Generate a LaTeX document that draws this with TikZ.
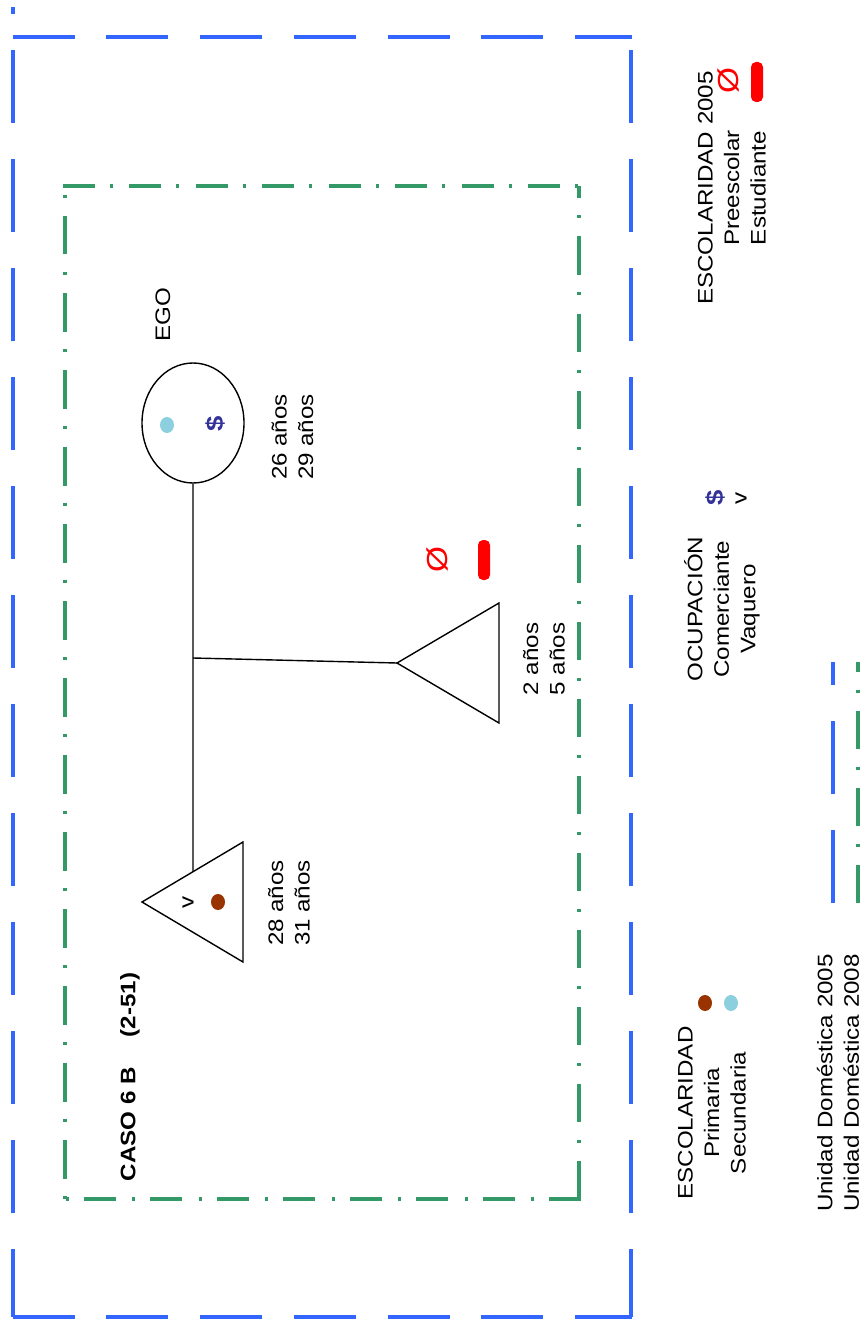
\documentclass[tikz,border=0pt]{standalone}
\usepackage{fontspec}
\setmainfont{Liberation Sans}[FakeStretch=1.15]
\usepackage{tikz}
\usetikzlibrary{calc,shapes.geometric}
\definecolor{udblue}{HTML}{3366FF}
\definecolor{udgreen}{HTML}{339966}
\definecolor{prim}{HTML}{993300}
\definecolor{secu}{HTML}{8CCFDF}
\definecolor{comer}{HTML}{333399}
\definecolor{preesc}{HTML}{FF0000}
\tikzset{
  line/.style={draw=black, line width=1.4pt},
  blueh/.style={draw=udblue, line width=4pt, dash pattern=on 62pt off 31.75pt},
  bluev/.style={draw=udblue, line width=4pt, dash pattern=on 73pt off 36pt},
  greenh/.style={draw=udgreen, line width=4pt, dash pattern=on 32pt off 15pt on 3pt off 16.5pt},
  greenv/.style={draw=udgreen, line width=4pt, dash pattern=on 38.5pt off 18pt on 3pt off 17.5pt},
  lbl/.style={rotate=90, inner sep=0pt, align=center, font=\fontsize{21}{26.5}\selectfont},
  fem/.style={ellipse, draw=black, line width=1.4pt, minimum width=102pt, minimum height=120pt, inner sep=0pt},
  dot/.style={ellipse, inner sep=0pt, minimum width=14pt, minimum height=16pt},
  stud/.style={fill=preesc, rounded corners=5pt, minimum width=12pt, minimum height=40pt, inner sep=0pt},
  nulo/.style={rotate=90, inner sep=0pt, text=preesc, font=\fontsize{29}{29}\selectfont},
  comsym/.style={rotate=90, inner sep=0pt, text=comer, font=\bfseries\fontsize{24}{24}\selectfont}
}
\begin{document}
\begin{tikzpicture}[x=1pt, y=-1pt]
  \useasboundingbox (0,0) rectangle (866,1321);

  % unidad domestica 2005
  \draw[blueh] (12.5,36.7) -- (632,36.7);
  \draw[blueh] (12.5,1317) -- (632,1317);
  \draw[bluev, dash phase=66pt] (12.5,7) -- (12.5,1317);
  \draw[bluev] (631,50) -- (631,1317);

  % unidad domestica 2008
  \draw[greenh] (62.5,186) -- (579,186);
  \draw[greenv] (579,1199) -- (579,186);
  \draw[greenh] (581,1199) -- (64.5,1199);
  \draw[greenv, dash phase=56.5pt] (64.5,1199) -- (64.5,186);

  \node[lbl] (caso) at (130,1077) {\textbf{CASO 6 B\hspace{30pt}(2-51)}};

  % ego
  \node[lbl] (egolbl) at (163,315) {EGO};
  \node[fem] (ego) at (193,423) {};
  \node[dot, fill=secu] (edot) at (167,425) {};
  \node[comsym] (ecom) at (215,424) {\$};
  \node[lbl] (eage) at (292.5,437) {26 años\\29 años};

  % esposo
  \coordinate (hA) at (142,902);
  \coordinate (hT) at (243,842);
  \coordinate (hB) at (243,962);
  \draw[line] (hA) -- (hT) -- (hB) -- cycle;
  \node[lbl] (hv) at (188,902) {v};
  \node[dot, fill=prim] (hdot) at (218,902) {};
  \node[lbl] (hage) at (289,903) {28 años\\31 años};

  \coordinate (hJoin) at ($(hA)!0.505!(hT)$);
  \draw[line] (ego.south) -- (hJoin);

  % hijo
  \coordinate (sib) at (193,658);
  \coordinate (cA) at (397,663);
  \coordinate (cT) at (499,603);
  \coordinate (cB) at (499,723);
  \draw[line] (cA) -- (cT) -- (cB) -- cycle;
  \draw[line] (sib) -- (cA);
  \node[nulo] (cnul) at (437,560) {Ø};
  \node[stud] (cstud) at (484,560) {};
  \node[lbl] (cage) at (544,659) {2 años\\5 años};

  % leyenda
  \node[lbl] (esc05) at (732,188) {ESCOLARIDAD 2005\\Preescolar\\Estudiante};
  \node[nulo] (lnul) at (728,81) {Ø};
  \node[stud] (lstud) at (757,82) {};

  \node[lbl] (ocup) at (722,609) {OCUPACIÓN\\Comerciante\\Vaquero};
  \node[comsym] (lcom) at (715,498) {\$};
  \node[lbl] (lvaq) at (741,498) {v};

  \node[lbl] (esc) at (712,1113) {ESCOLARIDAD\\Primaria\\Secundaria};
  \node[dot, fill=prim] (lprim) at (705,1003) {};
  \node[dot, fill=secu] (lsecu) at (731,1003) {};

  \node[lbl] (ud) at (838,1083) {Unidad Doméstica 2005\\Unidad Doméstica 2008};
  \draw[bluev] (833,903) -- (833,662);
  \draw[greenv] (858,903) -- (858,662);
\end{tikzpicture}
\end{document}
